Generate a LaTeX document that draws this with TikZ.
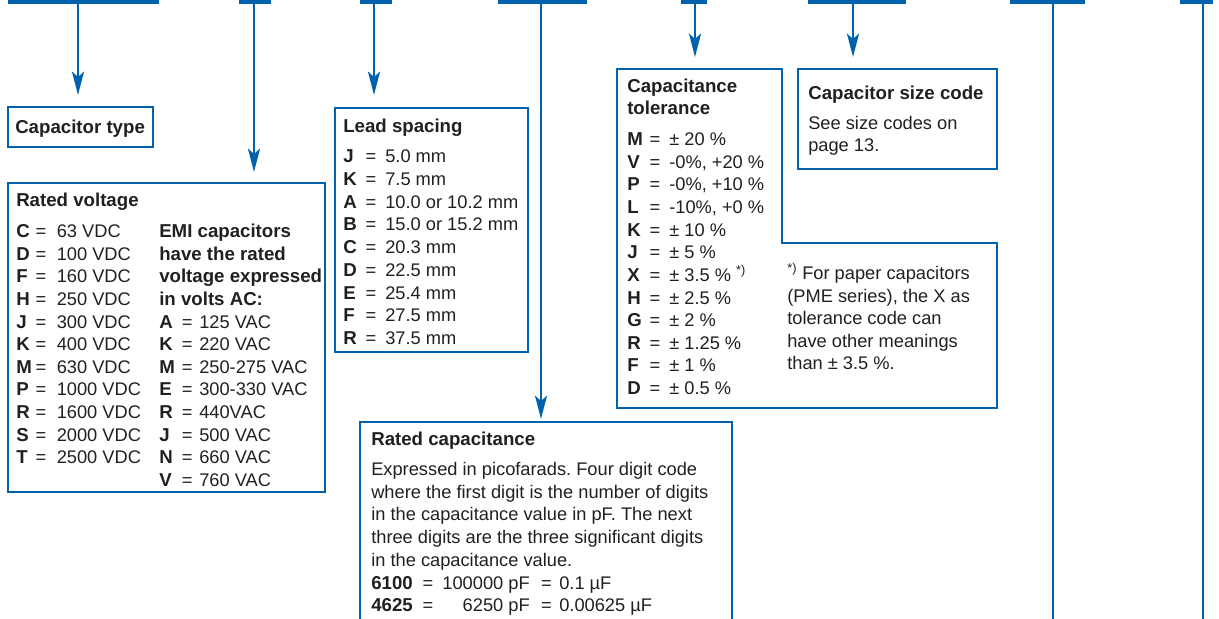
\documentclass[tikz,border=0pt]{standalone}
\usepackage{fontspec}
\setmainfont{Liberation Sans}
\usetikzlibrary{arrows.meta,fit}
\definecolor{CodeBlue}{RGB}{0,98,172}
\definecolor{Ink}{RGB}{35,31,32}
\frenchspacing

\tikzset{
  bar/.style={draw=CodeBlue, line width=3.3pt},
  wire/.style={draw=CodeBlue, line width=2pt},
  pointer/.style={wire, -{Stealth[length=17.5pt,width=9pt,inset=4pt]}},
  box/.style={draw=CodeBlue, line width=2pt, inner sep=0pt, outer sep=0pt},
  txt/.style={anchor=base west, inner sep=0pt, text=Ink, font=\fontsize{13.7pt}{17pt}\selectfont},
  hd/.style={txt, font=\fontsize{14pt}{17pt}\selectfont\bfseries},
  eq/.style={anchor=base, inner sep=0pt, text=Ink, font=\fontsize{13.7pt}{17pt}\selectfont},
}

\begin{document}
\begin{tikzpicture}[x=0.75pt,y=-0.75pt]
  \useasboundingbox (0,0) rectangle (1219,618);
  \clip (0,0) rectangle (1219,618);

  % code bars along the top
  \foreach \a/\b/\c [count=\i] in {8/159/78, 239/271/254, 360/392/374, 498/587/541,
                                   681/707/695, 808/906/853, 1010/1085/1053, 1180/1213/1203}{
    \draw[bar] (\a,2.2) -- (\b,2.2);
    \coordinate (t\i) at (\c,4);
  }

  % boxes
  \node[box, fit={(8,107) (153,147)}] (ctype) {};
  \node[box, fit={(8,183) (325,492)}] (rvolt) {};
  \node[box, fit={(335,108) (528,352)}] (lead) {};
  \node[box, fit={(360,422) (732,640)}] (rcap) {};
  \node[box, fit={(798,69) (997,169)}] (size) {};
  \draw[box] (617,69) -- (782,69) -- (782,243) -- (997,243) -- (997,408) -- (617,408) -- cycle;
  \coordinate (tol) at (695,69);

  % arrows
  \draw[pointer, shorten >=9pt] (t1) -- (t1 |- ctype.north);
  \draw[pointer, shorten >=8.25pt] (t2) -- (t2 |- rvolt.north);
  \draw[pointer, shorten >=9.75pt] (t3) -- (t3 |- lead.north);
  \draw[pointer, shorten >=2.25pt] (t4) -- (t4 |- rcap.north);
  \draw[pointer, shorten >=9pt] (t5) -- (t5 |- tol);
  \draw[pointer, shorten >=9pt] (t6) -- (t6 |- size.north);
  \draw[wire] (t7) -- (t7 |- rcap.south);
  \draw[wire] (t8) -- (t8 |- rcap.south);

  % capacitor type
  \node[hd] (ctype-h) at (15,133) {Capacitor type};

  % rated voltage
  \node[hd] (rvolt-h) at (16,206) {Rated voltage};
  \foreach \k/\v [count=\i from 0] in {C/63 VDC, D/100 VDC, F/160 VDC, H/250 VDC, J/300 VDC,
      K/400 VDC, M/630 VDC, P/1000 VDC, R/1600 VDC, S/2000 VDC, T/2500 VDC}{
    \node[hd] (dc\i) at (16,237.5+22.64*\i) {\k};
    \node[eq] (dceq\i) at (41,237.5+22.64*\i) {=};
    \node[txt] (dcv\i) at (56.5,237.5+22.64*\i) {\v};
  }
  \foreach \t [count=\i from 0] in {EMI capacitors, have the rated, voltage expressed, in volts AC:}
    \node[hd] (emi\i) at (159,237.5+22.64*\i) {\t};
  \foreach \k/\v [count=\i from 4] in {A/125 VAC, K/220 VAC, M/250-275 VAC, E/300-330 VAC,
      R/440VAC, J/500 VAC, N/660 VAC, V/760 VAC}{
    \node[hd] (ac\i) at (159,237.5+22.64*\i) {\k};
    \node[eq] (aceq\i) at (187.3,237.5+22.64*\i) {=};
    \node[txt] (acv\i) at (199,237.5+22.64*\i) {\v};
  }

  % lead spacing
  \node[hd] (lead-h) at (343,132) {Lead spacing};
  \foreach \k/\v [count=\i from 0] in {J/5.0 mm, K/7.5 mm, A/10.0 or 10.2 mm, B/15.0 or 15.2 mm,
      C/20.3 mm, D/22.5 mm, E/25.4 mm, F/27.5 mm, R/37.5 mm}{
    \node[hd] (ls\i) at (343,162.5+22.75*\i) {\k};
    \node[eq] (lseq\i) at (371,162.5+22.75*\i) {=};
    \node[txt] (lsv\i) at (385,162.5+22.75*\i) {\v};
  }

  % capacitance tolerance
  \node[hd] (tol-h1) at (627,92.3) {Capacitance};
  \node[hd] (tol-h2) at (627,114.3) {tolerance};
  \foreach \k/\v [count=\i from 0] in {M/± 20 \%, V/{-0\%, +20 \%}, P/{-0\%, +10 \%},
      L/{-10\%, +0 \%}, K/± 10 \%, J/± 5 \%, X/± 3.5 \% \textsuperscript{*)}, H/± 2.5 \%,
      G/± 2 \%, R/± 1.25 \%, F/± 1 \%, D/± 0.5 \%}{
    \node[hd] (tc\i) at (627,145.7+22.62*\i) {\k};
    \node[eq] (tceq\i) at (655,145.7+22.62*\i) {=};
    \node[txt] (tcv\i) at (669,145.7+22.62*\i) {\v};
  }
  \foreach \t [count=\i from 0] in {\textsuperscript{*)} For paper capacitors,
      {(PME series), the X as}, tolerance code can, have other meanings, than ± 3.5 \%.}
    \node[txt] (note\i) at (787,279.5+22.5*\i) {\t};

  % size code
  \node[hd] (size-h) at (808,99) {Capacitor size code};
  \node[txt] (size-1) at (808,129.3) {See size codes on};
  \node[txt] (size-2) at (808,151.7) {page 13.};

  % rated capacitance
  \node[hd] (rcap-h) at (371,445) {Rated capacitance};
  \foreach \t [count=\i from 0] in {Expressed in picofarads. Four digit code,
      where the first digit is the number of digits, in the capacitance value in pF. The next,
      three digits are the three significant digits, in the capacitance value.}
    \node[txt] (rc\i) at (371,475.5+22.7*\i) {\t};
  \node[hd] (ex1) at (371,589) {6100};
  \node[eq] (ex1a) at (428,589) {=};
  \node[txt, anchor=base east] (ex1b) at (530,589) {100000 pF};
  \node[eq] (ex1c) at (546.5,589) {=};
  \node[txt] (ex1d) at (559,589) {0.1 µF};
  \node[hd] (ex2) at (371,611.7) {4625};
  \node[eq] (ex2a) at (428,611.7) {=};
  \node[txt, anchor=base east] (ex2b) at (530,611.7) {6250 pF};
  \node[eq] (ex2c) at (546.5,611.7) {=};
  \node[txt] (ex2d) at (559,611.7) {0.00625 µF};
\end{tikzpicture}
\end{document}
